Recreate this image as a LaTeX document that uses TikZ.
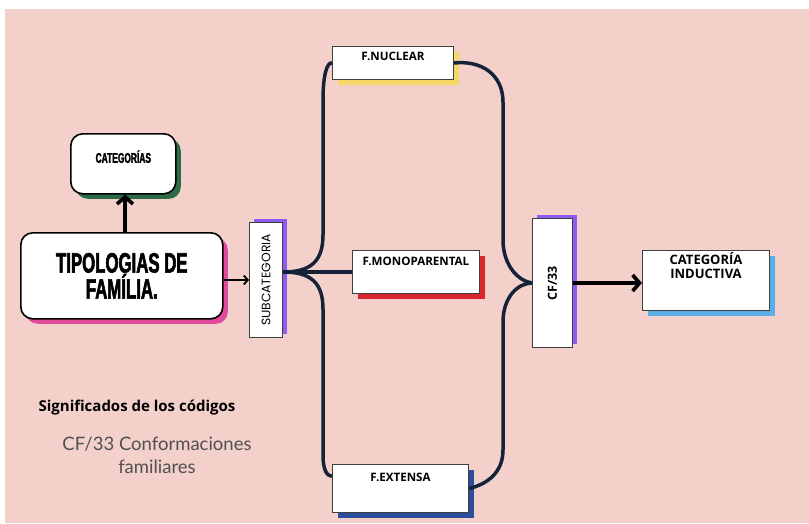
\documentclass[tikz,border=0pt]{standalone}
\usepackage{fontspec}
\usepackage{tikz}
\usetikzlibrary{arrows.meta,shadows}

\setmainfont{Open Sans}
\newfontfamily\condfont[FakeStretch=0.6, BoldFeatures={FakeBold=2}]{Liberation Sans}
\newfontfamily\geofont{Poppins}
\newfontfamily\notefont{Lato}

\definecolor{bgpink}{HTML}{F3D1CA}
\definecolor{navy}{HTML}{14223A}
\definecolor{leafgreen}{HTML}{2F6A46}
\definecolor{rosepink}{HTML}{E04A9C}
\definecolor{lilac}{HTML}{8C5CF2}
\definecolor{sunyellow}{HTML}{F6D867}
\definecolor{brickred}{HTML}{D8262C}
\definecolor{royalblue}{HTML}{2A4E9C}
\definecolor{skyblue}{HTML}{5AAFE6}
\definecolor{notegray}{HTML}{505050}

\begin{document}
\begin{tikzpicture}[x=1pt, y=-1pt,
    roundbox/.style={draw=black, line width=1.6pt, fill=white, rounded corners=12pt,
        anchor=north west, inner ysep=0pt, align=center},
    tagbox/.style={draw=black!75, line width=1pt, fill=white, anchor=north west,
        inner ysep=0pt, font=\bfseries\fontsize{11.6}{13}\selectfont},
    dropcol/.style={drop shadow={shadow xshift=5pt, shadow yshift=-5pt, opacity=1, fill=#1}},
    liftcol/.style={drop shadow={shadow xshift=4pt, shadow yshift=4pt, opacity=1, fill=#1}},
    arr/.style={line width=3.6pt, -{Straight Barb[length=7pt, width=16pt]}},
    bracket/.style={navy, line width=3.5pt}]

    % Background
    \useasboundingbox (0,0) rectangle (809,523);
    \fill[white] (0,0) rectangle (809,523);
    \fill[bgpink] (5,9) rectangle (809,523);

    % Main topic and category
    \node[roundbox, dropcol=rosepink, minimum width=202pt, minimum height=86pt,
        font=\condfont\bfseries\fontsize{28}{24}\selectfont] (tipo) at (20,232)
        {TIPOLOGIAS DE\\FAMÍLIA.};
    \node[roundbox, dropcol=leafgreen, minimum width=105pt, minimum height=60pt,
        text height=29pt, text depth=31pt,
        font=\condfont\bfseries\fontsize{14}{16}\selectfont] (cat) at (70,133) {CATEGORÍAS};

    % Subcategory
    \node[draw=black!75, line width=1pt, fill=white, anchor=north west, liftcol=lilac,
        minimum width=33pt, minimum height=115pt, inner sep=0pt,
        font=\geofont\fontsize{12.3}{14}\selectfont] (sub) at (249,222)
        {\rotatebox{90}{SUBCATEGORIA}};

    % Family types
    \node[tagbox, dropcol=sunyellow, minimum width=121pt, minimum height=33pt,
        text height=14pt, text depth=19pt] (nuc) at (332,46) {F.NUCLEAR};
    \node[tagbox, dropcol=brickred, minimum width=127pt, minimum height=43pt,
        text height=15pt, text depth=28pt] (mono) at (352,250) {F.MONOPARENTAL};
    \node[tagbox, dropcol=royalblue, minimum width=136pt, minimum height=48pt,
        text height=17pt, text depth=31pt] (ext) at (332,464) {F.EXTENSA};

    % Code and inductive category
    \node[tagbox, liftcol=lilac, minimum width=40pt, minimum height=129pt, inner sep=0pt,
        font=\bfseries\fontsize{12.5}{14}\selectfont] (cf) at (532,218) {\rotatebox{90}{CF/33}};
    \node[tagbox, dropcol=skyblue, minimum width=127pt, minimum height=60pt,
        text width=120pt, align=center, text height=14pt, text depth=46pt,
        font=\bfseries\fontsize{13}{14}\selectfont] (ind) at (642,250)
        {CATEGORÍA\\INDUCTIVA};

    % Arrows
    \draw[arr] (tipo.north -| 125,0) -- (cat.south -| 125,0);
    \draw[line width=1.8pt, -{Straight Barb[length=4pt, width=9pt]}]
        (tipo.east |- sub.west) -- (sub.west);
    \draw[arr] (cf.east) -- (ind.west |- cf.east);

    % Left brace
    \coordinate (hub) at (sub.east |- mono.west);
    \draw[bracket] (hub) .. controls (310,272) and (323,262) .. (323,235)
        -- (323,100) .. controls (323,75) and (327,62) .. (nuc.west);
    \draw[bracket] (hub) .. controls (310,272) and (323,282) .. (323,309)
        -- (323,455) .. controls (323,468) and (326,476) .. (ext.170);
    \draw[bracket] (hub) -- (mono.west);

    % Right brace
    \draw[bracket] (nuc.east) .. controls (482,60) and (503,75) .. (503,102)
        -- (503,240) .. controls (503,265) and (518,281) .. (cf.west);
    \draw[bracket] (ext.east) .. controls (488,484) and (503,472) .. (503,450)
        -- (503,322) .. controls (503,297) and (518,283) .. (cf.west);

    % Code meanings
    \node[font=\bfseries\fontsize{15}{18}\selectfont] (meaning) at (137,408)
        {Significados de los códigos};
    \node[font=\notefont\fontsize{18.5}{23}\selectfont, text=notegray, align=center]
        (code) at (157,455) {CF/33 Conformaciones\\familiares};

\end{tikzpicture}
\end{document}
